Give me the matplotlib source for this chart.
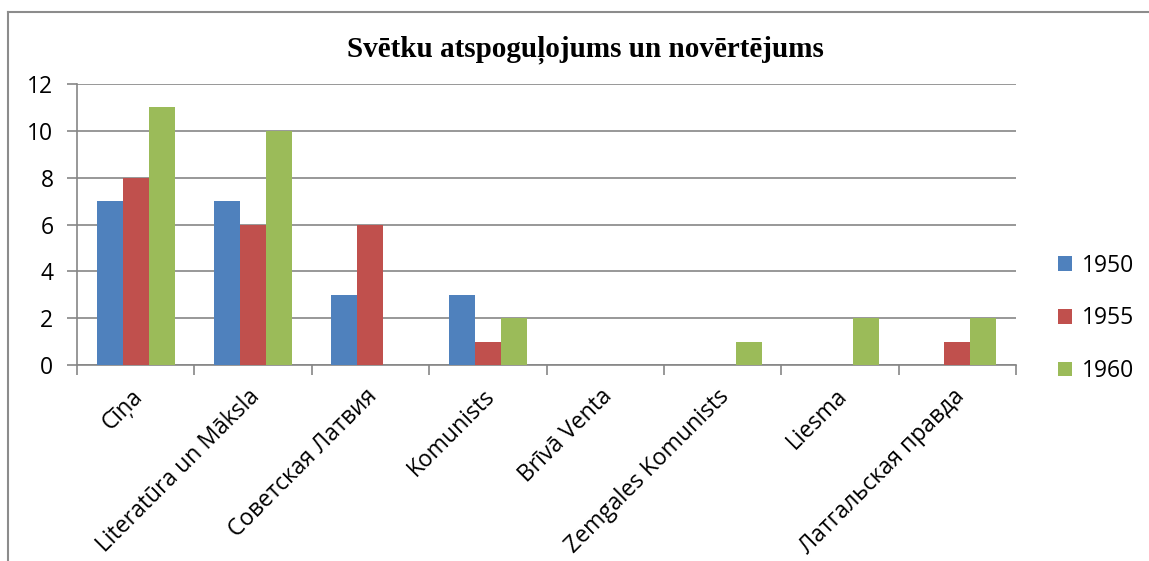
import matplotlib
matplotlib.use("Agg")
import matplotlib.pyplot as plt
import matplotlib.transforms as mtransforms
from matplotlib.lines import Line2D
import numpy as np

categories = ["Cīņa", "Literatūra un Māksla", "Советская Латвия", "Komunists",
              "Brīvā Venta", "Zemgales Komunists", "Liesma", "Латгальская правда"]
years = ["1950", "1955", "1960"]
v1950 = [7, 7, 3, 3, 0, 0, 0, 0]
v1955 = [8, 6, 6, 1, 0, 0, 0, 1]
v1960 = [11, 10, 0, 2, 0, 1, 2, 2]
yticks = [0, 2, 4, 6, 8, 10, 12]
title = "Svētku atspoguļojums un novērtējums"

colors = ["#4F81BD", "#C0504D", "#9BBB59"]
grid_c = "#868686"
font = ["Open Sans", "DejaVu Sans"]
fs = 16.5

fig = plt.figure(figsize=(11.49, 5.61), dpi=100)
ax = fig.add_axes([77 / 1149, 1 - 365 / 561, (1016 - 77) / 1149, (365 - 84) / 561])

x = np.arange(len(categories))
w = 1 / 4.5
for i, (vals, yr) in enumerate(zip([v1950, v1955, v1960], years)):
    ax.bar(x + (i - 1) * w, vals, width=w, color=colors[i], label=yr, zorder=3)

ax.set_xlim(-0.5, len(categories) - 0.5)
ax.set_ylim(0, 12)
ax.set_yticks(yticks)
ax.set_yticklabels([str(t) for t in yticks], fontsize=fs, family=font)
ax.yaxis.grid(True, color=grid_c, linewidth=1.2, zorder=0)
ax.tick_params(axis="y", length=7, width=1.2, color=grid_c, pad=10)

# category ticks at boundaries, labels at centers
ax.set_xticks(np.arange(len(categories) + 1) - 0.5)
ax.set_xticklabels([])
ax.tick_params(axis="x", which="major", length=7, width=1.2, color=grid_c)
ax.set_xticks(x, minor=True)
ax.set_xticklabels(categories, minor=True, rotation=45, ha="right", va="top",
                   rotation_mode="anchor", fontsize=fs, family=font)
ax.tick_params(axis="x", which="minor", length=0, pad=14)
shift = mtransforms.ScaledTranslation(-5 / 100, 0, fig.dpi_scale_trans)
for lbl in ax.get_xticklabels(minor=True):
    lbl.set_transform(lbl.get_transform() + shift)

for s in ["top", "right"]:
    ax.spines[s].set_visible(False)
for s in ["left", "bottom"]:
    ax.spines[s].set_color(grid_c)
    ax.spines[s].set_linewidth(1.2)

leg = ax.legend(loc="center left", bbox_to_anchor=(1.023, 0.166), frameon=False,
                handlelength=0.62, handleheight=0.62, handletextpad=0.4,
                labelspacing=1.25, prop={"family": font, "size": fs})

fig.text(585 / 1149, 1 - 50 / 561, title, ha="center", va="center",
         fontsize=21, fontweight="bold", family="Liberation Serif")

# chart area border (left and top edges visible)
fig.add_artist(Line2D([8 / 1149, 8 / 1149], [0, 1 - 12 / 561], color="#8c8c8c", lw=1.5))
fig.add_artist(Line2D([8 / 1149, 1], [1 - 12 / 561, 1 - 12 / 561], color="#8c8c8c", lw=1.5))

fig.savefig("out.png", dpi=100)
